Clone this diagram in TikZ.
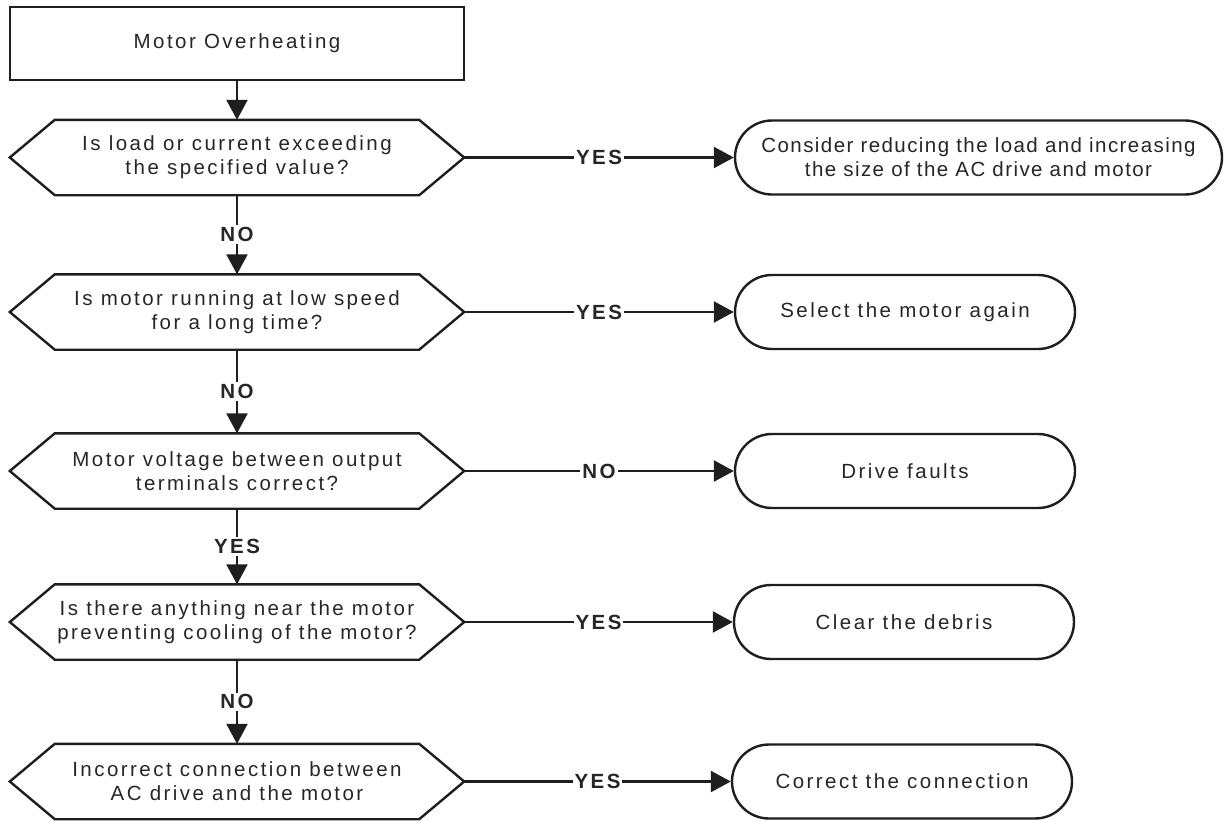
\documentclass[tikz,border=0pt]{standalone}
\usepackage{fontspec}
\setmainfont{Liberation Sans}[LetterSpace=12]
\usetikzlibrary{shapes.misc,arrows.meta,calc}
\definecolor{ink}{HTML}{1E1E1E}
\definecolor{txt}{HTML}{262626}
\tikzset{
  line/.style={draw=ink,line width=2.4pt},
  arr/.style={line,-{Triangle[length=20pt,width=21pt]}},
  startbox/.style={line,rectangle,minimum width=454pt,minimum height=73pt,inner sep=0pt,text=txt,font=\fontsize{20.5}{24}\selectfont},
  dec/.style={rectangle,minimum width=454pt,minimum height=75pt,inner sep=0pt,align=center,text=txt,font=\fontsize{20.5}{24}\selectfont},
  term/.style={line,rounded rectangle,minimum width=340pt,minimum height=74pt,inner sep=0pt,align=center,text=txt,font=\fontsize{20.5}{24}\selectfont},
  lbl/.style={fill=white,inner sep=2pt,text=txt,font=\fontsize{20.5}{22}\selectfont\bfseries},
}
\begin{document}
\begin{tikzpicture}[x=1pt,y=-1pt]
\useasboundingbox (0,0) rectangle (1232,820);
\node[startbox] (s) at (237,43.5) {Motor Overheating};
\node[dec] (q1) at (237,157.5) {Is load or current exceeding\\the specified value?};
\node[dec] (q2) at (237,312) {Is motor running at low speed\\for a long time?};
\node[dec] (q3) at (237,471) {Motor voltage between output\\terminals correct?};
\node[dec] (q4) at (237,622) {Is there anything near the motor\\preventing cooling of the motor?};
\node[dec] (q5) at (237,781.5) {Incorrect connection between\\AC drive and the motor};
\foreach \n in {q1,q2,q3,q4,q5}{
  \draw[line,line join=miter] (\n.west) -- ($(\n.north west)+(45,0)$) -- ($(\n.north east)+(-45,0)$) -- (\n.east) -- ($(\n.south east)+(-45,0)$) -- ($(\n.south west)+(45,0)$) -- cycle;
}
\node[term,minimum width=487pt,font=\fontsize{20.5}{24}\selectfont\addfontfeature{LetterSpace=7}] (t1) at (978.5,157.5) {Consider reducing the load and increasing\\the size of the AC drive and motor};
\node[term] (t2) at (905,312) {Select the motor again};
\node[term] (t3) at (905,471) {Drive faults};
\node[term] (t4) at (904,622) {Clear the debris};
\node[term] (t5) at (902,781.5) {Correct the connection};
\draw[arr] (s.south) -- (q1.north);
\draw[arr] (q1.south) -- node[lbl]{NO} (q2.north);
\draw[arr] (q2.south) -- node[lbl]{NO} (q3.north);
\draw[arr] (q3.south) -- node[lbl]{YES} (q4.north);
\draw[arr] (q4.south) -- node[lbl]{NO} (q5.north);
\draw[arr] (q1.east) -- node[lbl]{YES} (t1.west);
\draw[arr] (q2.east) -- node[lbl]{YES} (t2.west);
\draw[arr] (q3.east) -- node[lbl]{NO} (t3.west);
\draw[arr] (q4.east) -- node[lbl]{YES} (t4.west);
\draw[arr] (q5.east) -- node[lbl]{YES} (t5.west);
\end{tikzpicture}
\end{document}
